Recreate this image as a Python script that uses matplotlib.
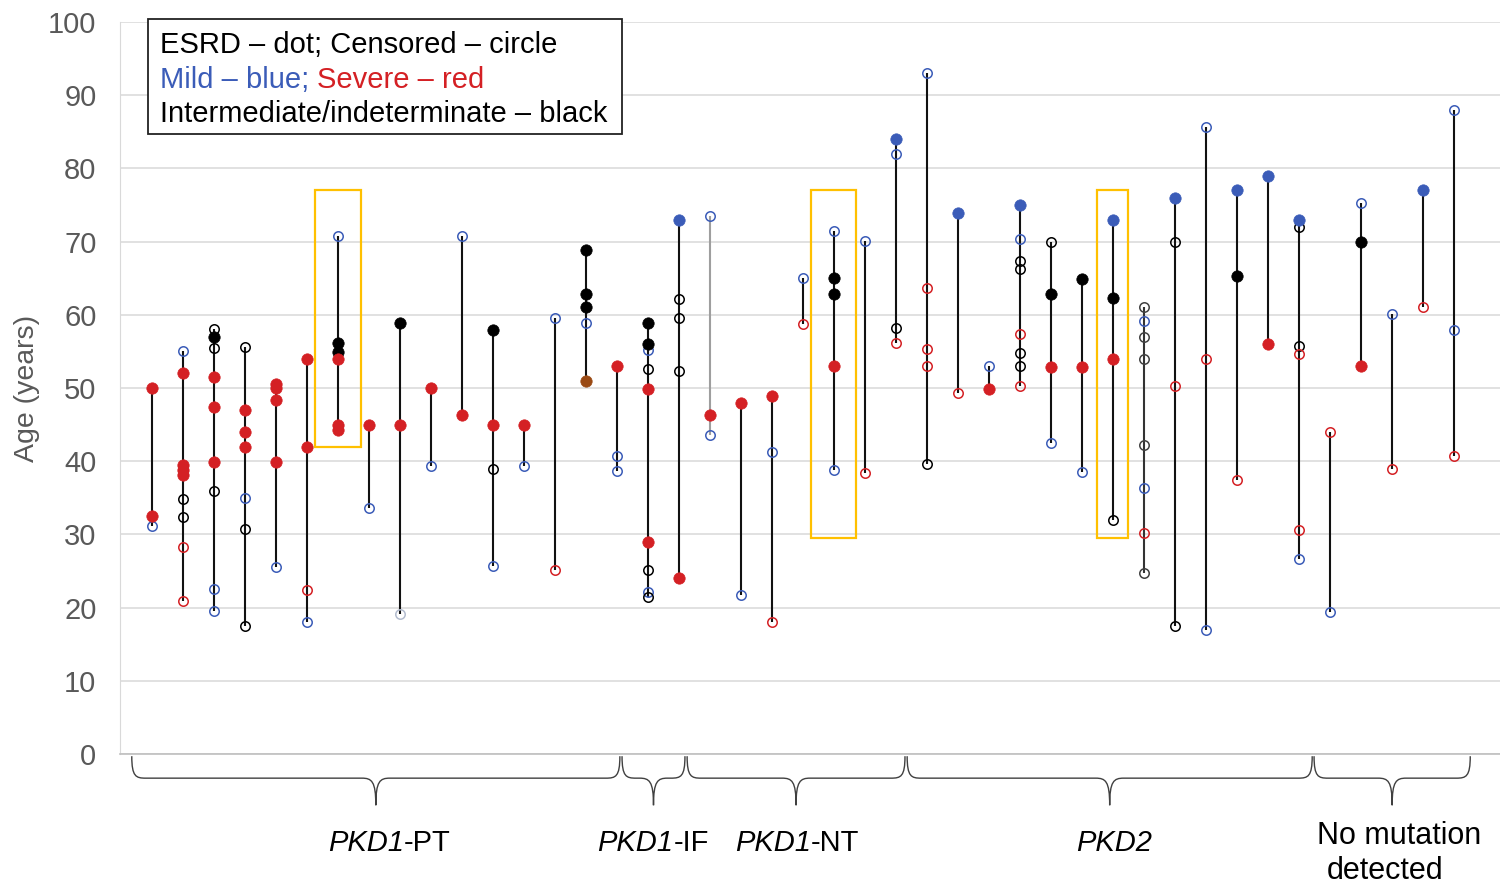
import matplotlib
matplotlib.use("Agg")
import matplotlib.pyplot as plt
from matplotlib.patches import Rectangle, PathPatch
from matplotlib.path import Path
from matplotlib.transforms import offset_copy

plt.rcParams['font.family'] = ['Liberation Sans', 'DejaVu Sans']

# ---------------- data ----------------
# one entry per observed individual: family column (1..43), age (years),
# ESRD event (1 = dot) or censored (0 = circle), severity class
# severity: M = mild (blue), S = severe (red), I = intermediate/indeterminate (black),
#           B = brown dot, F = faded circle, G = dark grey circle
family = (
    [1]*3 + [2]*9 + [3]*9 + [4]*7 + [5]*5 + [6]*4 + [7]*6 + [8]*2 + [9]*3 + [10]*2 +
    [11]*2 + [12]*4 + [13]*2 + [14]*2 + [15]*5 + [16]*3 + [17]*9 + [18]*5 + [19]*3 +
    [20]*2 + [21]*3 + [22]*2 + [23]*5 + [24]*2 + [25]*4 + [26]*5 + [27]*2 + [28]*2 +
    [29]*8 + [30]*4 + [31]*3 + [32]*4 + [33]*8 + [34]*4 + [35]*3 + [36]*3 + [37]*2 +
    [38]*6 + [39]*2 + [40]*3 + [41]*2 + [42]*2 + [43]*3
)
age = [
    50.0, 32.5, 31.2,
    55.0, 52.0, 39.5, 38.8, 38.1, 34.8, 32.4, 28.3, 20.9,
    58.0, 57.0, 55.4, 51.5, 47.4, 39.9, 35.9, 22.5, 19.6,
    55.6, 47.0, 44.0, 42.0, 35.0, 30.7, 17.5,
    50.5, 50.0, 48.4, 39.9, 25.5,
    53.9, 42.0, 22.4, 18.0,
    70.7, 56.2, 54.9, 53.9, 45.0, 44.3,
    44.9, 33.6,
    58.9, 44.9, 19.1,
    50.0, 39.4,
    70.8, 46.3,
    57.9, 44.9, 39.0, 25.7,
    44.9, 39.4,
    59.6, 25.1,
    68.9, 62.9, 61.0, 58.9, 51.0,
    53.0, 40.7, 38.7,
    58.9, 56.0, 55.2, 52.6, 49.9, 29.0, 25.1, 22.1, 21.4,
    73.0, 62.2, 59.5, 52.3, 24.0,
    73.5, 46.3, 43.6,
    48.0, 21.7,
    48.9, 41.2, 18.0,
    65.0, 58.7,
    71.4, 65.0, 62.9, 53.0, 38.8,
    70.1, 38.4,
    84.0, 81.9, 58.2, 56.2,
    93.0, 63.7, 55.3, 53.0, 39.6,
    73.9, 49.3,
    53.0, 49.9,
    75.0, 70.3, 67.4, 66.2, 57.4, 54.8, 53.0, 50.3,
    70.0, 62.9, 52.9, 42.5,
    64.9, 52.9, 38.5,
    72.9, 62.3, 53.9, 31.9,
    61.0, 59.2, 57.0, 54.0, 42.2, 36.3, 30.2, 24.7,
    75.9, 70.0, 50.3, 17.5,
    85.7, 53.9, 16.9,
    77.0, 65.3, 37.4,
    79.0, 56.0,
    73.0, 72.0, 55.8, 54.6, 30.6, 26.6,
    44.0, 19.4,
    75.3, 70.0, 53.0,
    60.1, 38.9,
    77.0, 61.1,
    88.0, 57.9, 40.7,
]
esrd = [
    1, 1, 0,
    0, 1, 1, 1, 1, 0, 0, 0, 0,
    0, 1, 0, 1, 1, 1, 0, 0, 0,
    0, 1, 1, 1, 0, 0, 0,
    1, 1, 1, 1, 0,
    1, 1, 0, 0,
    0, 1, 1, 1, 1, 1,
    1, 0,
    1, 1, 0,
    1, 0,
    0, 1,
    1, 1, 0, 0,
    1, 0,
    0, 0,
    1, 1, 1, 0, 1,
    1, 0, 0,
    1, 1, 0, 0, 1, 1, 0, 0, 0,
    1, 0, 0, 0, 1,
    0, 1, 0,
    1, 0,
    1, 0, 0,
    0, 0,
    0, 1, 1, 1, 0,
    0, 0,
    1, 0, 0, 0,
    0, 0, 0, 0, 0,
    1, 0,
    0, 1,
    1, 0, 0, 0, 0, 0, 0, 0,
    0, 1, 1, 0,
    1, 1, 0,
    1, 1, 1, 0,
    0, 0, 0, 0, 0, 0, 0, 0,
    1, 0, 0, 0,
    0, 0, 0,
    1, 1, 0,
    1, 1,
    1, 0, 0, 0, 0, 0,
    0, 0,
    0, 1, 1,
    0, 0,
    1, 0,
    0, 0, 0,
]
severity = (
    list("SSM") + list("MSSSSIISS") + list("IIISSSIMM") + list("ISSSMII") +
    list("SSSSM") + list("SSSM") + list("MIISSS") + list("SM") + list("ISF") +
    list("SM") + list("MS") + list("ISIM") + list("SM") + list("MS") +
    list("IIIMB") + list("SMM") + list("IIMISSIMI") + list("MIIIS") + list("MSM") +
    list("SM") + list("SMS") + list("MS") + list("MIISM") + list("MS") +
    list("MMIS") + list("MSSSI") + list("MS") + list("MS") + list("MMIISIIS") +
    list("IISM") + list("ISM") + list("MISI") + list("GMGGGMSG") + list("MISI") +
    list("MSM") + list("MIS") + list("MS") + list("MIISSM") + list("SM") +
    list("MIS") + list("MS") + list("MS") + list("MMS")
)
# families whose connecting line is drawn in a lighter shade
light_line_family = [19]
grey_line_family = [33]

group_labels = [("PKD1", "-PT"), ("PKD1", "-IF"), ("PKD1", "-NT"), ("PKD2", ""), None]
highlight_family = [7, 23, 32]

y_ticks = list(range(0, 101, 10))

# ---------------- style ----------------
BLUE = '#3B5CB8'
RED = '#D42024'
BLACK = '#000000'
colors = {'M': BLUE, 'S': RED, 'I': BLACK, 'B': '#9A4A14', 'F': '#B3BCCE', 'G': '#404040'}

W, H = 1500, 885
fig = plt.figure(figsize=(W / 100, H / 100), dpi=100)
ax = fig.add_axes([120 / W, 1 - 754 / H, 1380 / W, (754 - 22) / H])

ax.set_xlim(-0.03, 44.5)
ax.set_ylim(0, 100)
ax.set_yticks(y_ticks)
ax.set_xticks([])
ax.grid(axis='y', color='#D9D9D9', lw=1.1)
ax.set_axisbelow(True)
for s in ['top', 'right']:
    ax.spines[s].set_visible(False)
ax.spines['left'].set_color('#D9D9D9')
ax.spines['bottom'].set_color('#BFBFBF')
ax.spines['bottom'].set_linewidth(1.2)
ax.tick_params(axis='y', length=0, pad=17, labelsize=21, labelcolor='#595959')

# vertical lines per family
fams = sorted(set(family))
for f in fams:
    ys = [a for fa, a in zip(family, age) if fa == f]
    if f in light_line_family:
        lc = '#9E9E9E'
    elif f in grey_line_family:
        lc = '#333333'
    else:
        lc = '#111111'
    ax.plot([f, f], [min(ys), max(ys)], color=lc, lw=1.5, zorder=2, solid_capstyle='butt')

# markers
for f, a, e, s in zip(family, age, esrd, severity):
    c = colors[s]
    if e:
        ax.plot(f, a, 'o', ms=8.2, mfc=c, mec=c, mew=0.5, zorder=4)
    else:
        ax.plot(f, a, 'o', ms=6.8, mfc='none', mec=c, mew=1.1, zorder=3)

# highlight boxes
box_top = {7: 77.0, 23: 77.0, 32: 77.0}
box_bot = {7: 42.0, 23: 29.5, 32: 29.5}
box_halfw = {7: 0.75, 23: 0.72, 32: 0.5}
for f in highlight_family:
    hw = box_halfw[f]
    ax.add_patch(Rectangle((f - hw, box_bot[f]), 2 * hw, box_top[f] - box_bot[f],
                           fill=False, ec='#FFC000', lw=1.6, zorder=5))

# braces below axis (x in data units, y in data units below 0)
brace_spans = [(0.35, 16.1), (16.17, 18.2), (18.27, 25.3), (25.37, 38.44), (38.5, 43.54)]
y_top, y_mid, y_tip = -0.3, -3.3, -7.0
for (x0, x1) in brace_spans:
    xm = (x0 + x1) / 2
    r = 0.45
    verts = [
        (x0, y_top), (x0, y_mid + 0.2), (x0 + r * 0.3, y_mid), (x0 + r, y_mid),
        (xm - r, y_mid),
        (xm - r * 0.3, y_mid), (xm, y_mid - 0.4), (xm, y_tip),
        (xm, y_mid - 0.4), (xm + r * 0.3, y_mid), (xm + r, y_mid),
        (x1 - r, y_mid),
        (x1 - r * 0.3, y_mid), (x1, y_mid + 0.2), (x1, y_top),
    ]
    codes = [Path.MOVETO, Path.CURVE4, Path.CURVE4, Path.CURVE4, Path.LINETO,
             Path.CURVE4, Path.CURVE4, Path.CURVE4,
             Path.CURVE4, Path.CURVE4, Path.CURVE4, Path.LINETO,
             Path.CURVE4, Path.CURVE4, Path.CURVE4]
    ax.add_patch(PathPatch(Path(verts, codes), fill=False, ec='#404040', lw=1.0,
                           clip_on=False, zorder=1))


# ---- rich text helper ----
renderer = fig.canvas.get_renderer()


def px(x, y):
    return (x / W, 1 - y / H)


def rich(x, y, pieces, ha='center', size=18):
    texts, widths = [], []
    for s, props in pieces:
        t = fig.text(0, 0, s, ha='left', va='center', fontsize=size, **props)
        widths.append(t.get_window_extent(renderer).width)
        texts.append(t)
    total = sum(widths)
    off = -total / 2 if ha == 'center' else 0
    for t, w in zip(texts, widths):
        t.set_transform(offset_copy(fig.transFigure, fig=fig, x=off, y=0, units='dots'))
        t.set_position(px(x, y))
        off += w


# group labels
label_x = [389, 653, 797, 1114]
for lab, lx in zip(group_labels[:4], label_x):
    pieces = [(lab[0], dict(style='italic'))]
    if lab[1]:
        pieces.append((lab[1], dict()))
    rich(lx, 843, pieces, size=21)
fig.text(*px(1399, 836), "No mutation", ha='center', va='center', fontsize=22)
fig.text(*px(1385, 871), "detected", ha='center', va='center', fontsize=22)

# y label
fig.text(*px(27, 388), "Age (years)", rotation=90, ha='center', va='center',
         fontsize=20.5, color='#595959')

# legend box
fig.patches.append(Rectangle(px(148, 134), (622 - 148) / W, (134 - 19) / H,
                             transform=fig.transFigure, fill=True, fc='white',
                             ec='#222222', lw=1.3, zorder=10))
rich(160, 45, [("ESRD – dot; Censored – circle", dict(color=BLACK))], ha='left', size=21)
rich(160, 80, [("Mild – blue; ", dict(color=BLUE)), ("Severe – red", dict(color=RED))],
     ha='left', size=21)
rich(160, 114, [("Intermediate/indeterminate – black", dict(color=BLACK))], ha='left', size=21)
for t in fig.texts:
    t.set_zorder(11)

fig.savefig("out.png", dpi=100)
